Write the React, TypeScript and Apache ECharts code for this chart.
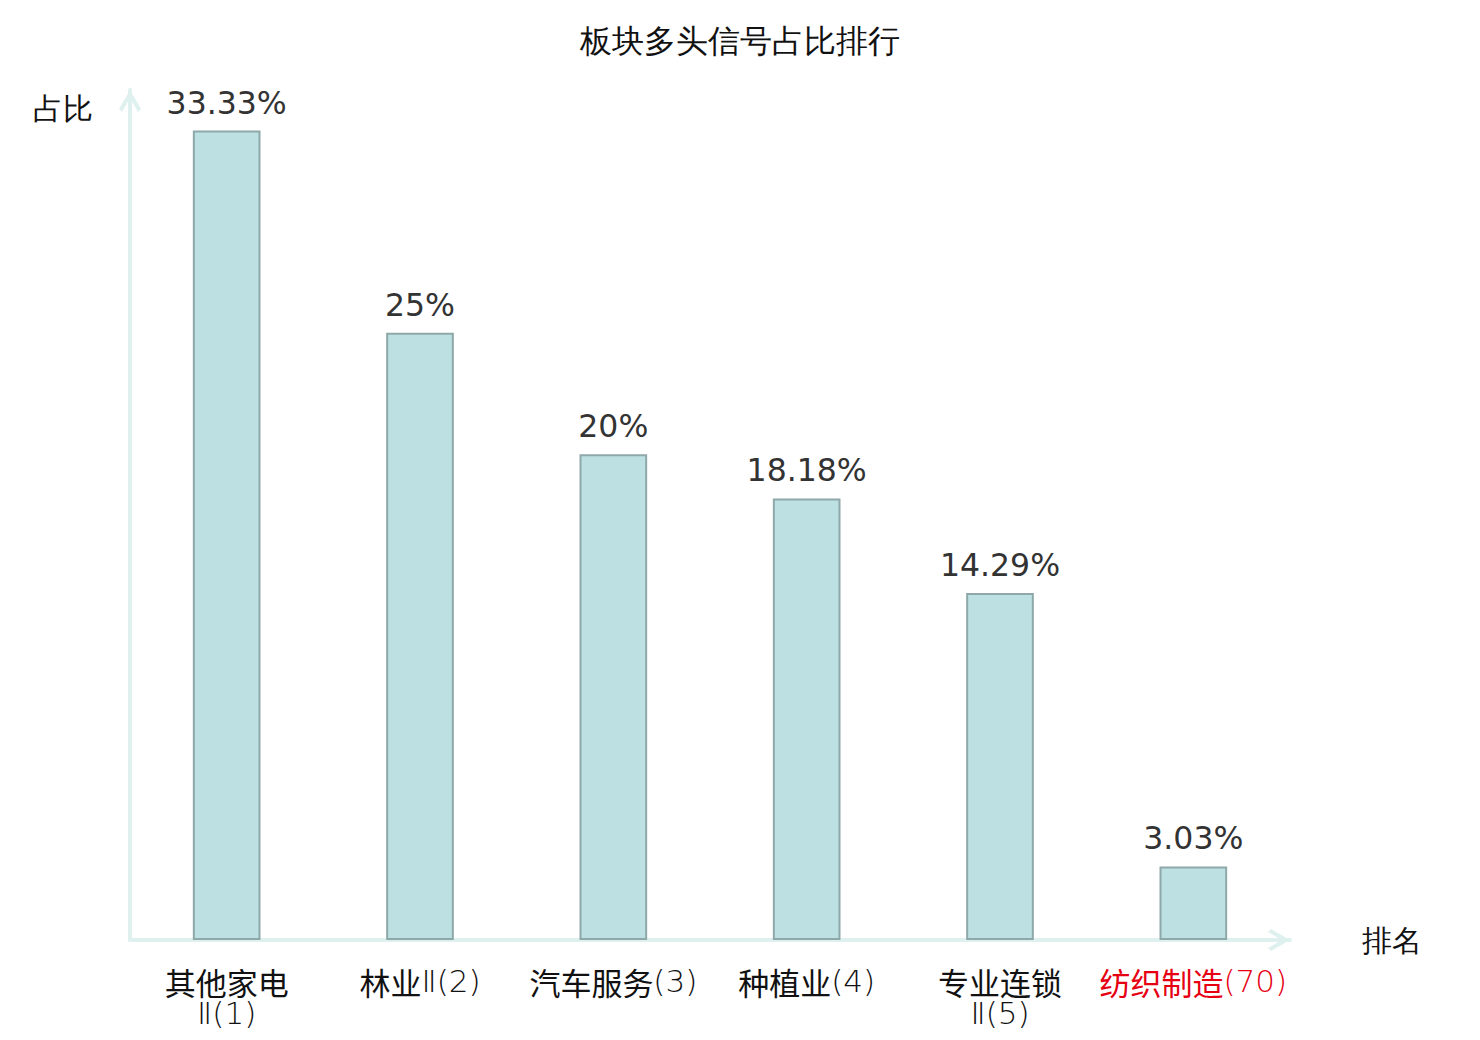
import React, { useEffect, useRef } from "react";
import * as echarts from "echarts";

const titleText = "板块多头信号占比排行";
const categories = ["其他家电\nⅡ(1)", "林业Ⅱ(2)", "汽车服务(3)", "种植业(4)", "专业连锁\nⅡ(5)", "纺织制造(70)"];
const highlighted = [false, false, false, false, false, true];
const values = [33.33, 25, 20, 18.18, 14.29, 3.03];
const yName = "占比";
const xName = "排名";

const arrowPath = "path://M11,0 L22,19 L19,22 L11,8 L3,22 L0,19 Z";

const splitRuns = (v: string) =>
  v
    .split("\n")
    .map((line) =>
      line.replace(/([\u4e00-\u9fff]+)|([^\u4e00-\u9fff]+)/g, (m: string, cjk: string) =>
        cjk ? `{c|${m}}` : `{l|${m}}`
      )
    )
    .join("\n");

export default function App() {
  const ref = useRef<HTMLDivElement>(null);
  useEffect(() => {
    if (!ref.current) return;
    const chart = echarts.init(ref.current, null, { renderer: "svg" });
    const axisColor = "#dff1ee";
    chart.setOption({
      animation: false,
      backgroundColor: "#ffffff",
      title: {
        text: titleText,
        left: "center",
        top: 12,
        textStyle: { fontSize: 32, fontWeight: "normal", color: "#111", fontFamily: "sans-serif" },
      },
      grid: { left: 122, right: 182, top: 82, bottom: 92, containLabel: false },
      xAxis: {
        type: "category",
        data: categories.map((c, i) => ({
          value: c,
          textStyle: highlighted[i] ? { color: "#e60012" } : undefined,
        })),
        name: xName,
        nameGap: 72,
        nameTextStyle: { fontSize: 30, color: "#111", fontFamily: "sans-serif" },
        axisLine: {
          show: true,
          lineStyle: { color: axisColor, width: 4 },
          symbol: ["none", arrowPath],
          symbolSize: [22, 22],
          symbolOffset: [0, -11],
        },
        axisTick: { show: false },
        axisLabel: {
          interval: 0,
          margin: 25,
          fontSize: 31,
          lineHeight: 32,
          color: "#111",
          fontFamily: "sans-serif",
          formatter: (v: string) => splitRuns(v),
          rich: {
            c: { fontSize: 31, lineHeight: 32, fontFamily: "'Noto Sans CJK SC', sans-serif", fontWeight: "normal" },
            l: { fontSize: 31, lineHeight: 32, fontFamily: "'DejaVu Sans'", fontWeight: 200 },
          },
        },
      },
      yAxis: {
        type: "value",
        min: 0,
        max: 35,
        name: yName,
        nameGap: -33,
        nameTextStyle: { fontSize: 30, color: "#111", fontFamily: "sans-serif", align: "right", padding: [0, 37, 0, 0] },
        axisLine: {
          show: true,
          lineStyle: { color: axisColor, width: 4 },
          symbol: ["none", arrowPath],
          symbolSize: [22, 22],
          symbolOffset: [0, -11],
        },
        axisTick: { show: false },
        axisLabel: { show: false },
        splitLine: { show: false },
      },
      series: [
        {
          type: "bar",
          data: values,
          barWidth: "35%",
          itemStyle: { color: "#bde0e3", borderColor: "#8ea8a9", borderWidth: 2 },
          label: {
            show: true,
            position: "top",
            distance: 12,
            fontSize: 31.5,
            color: "#333",
            fontFamily: "DejaVu Sans",
            formatter: (p: any) => p.value + "%",
          },
        },
      ],
    });
    return () => chart.dispose();
  }, []);
  return <div ref={ref} style={{ width: 1464, height: 1024 }} />;
}
